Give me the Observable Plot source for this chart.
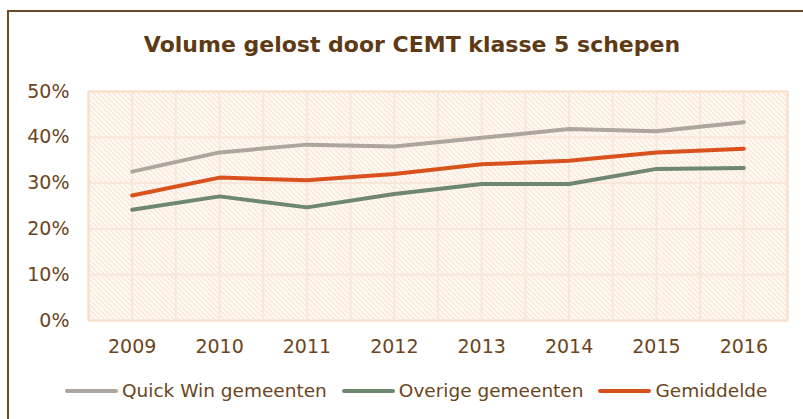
<!DOCTYPE html>
<html>
<head>
<meta charset="utf-8">
<script src="https://cdn.jsdelivr.net/npm/d3@7"></script>
<script src="https://cdn.jsdelivr.net/npm/@observablehq/plot@0.6"></script>
<style>
  html, body { margin: 0; padding: 0; background: #fff; }
  body { width: 803px; height: 419px; position: relative; overflow: hidden; font-family: "DejaVu Sans", Verdana, sans-serif; color: #6B4520; }
  #frame { position: absolute; left: 7px; top: 10px; width: 820px; height: 430px; border-top: 2px solid #6B4A26; border-left: 2px solid #6B4A26; }
  #title { position: absolute; left: 0; top: 32px; width: 824px; text-align: center; font-weight: bold; font-size: 22px; color: #5E3A14; white-space: nowrap; }
  #chart { position: absolute; left: 0; top: 60px; }
  #legend { position: absolute; left: 65px; top: 380px; display: flex; gap: 15px; font-size: 18.5px; color: #6B4520; white-space: nowrap; }
  .item { display: flex; align-items: center; gap: 4px; }
  .swatch { width: 53px; height: 4px; border-radius: 2px; }
</style>
</head>
<body>
<div id="frame"></div>
<div id="title"></div>
<div id="chart"></div>
<div id="legend"></div>
<script>
const titleText = "Volume gelost door CEMT klasse 5 schepen";
const years = [2009, 2010, 2011, 2012, 2013, 2014, 2015, 2016];
const seriesNames = ["Quick Win gemeenten", "Overige gemeenten", "Gemiddelde"];
const seriesColors = ["#ADA69E", "#6E8771", "#D9521D"];
const quickWin = [0.325, 0.367, 0.384, 0.380, 0.399, 0.418, 0.413, 0.433];
const overige  = [0.242, 0.271, 0.247, 0.276, 0.298, 0.298, 0.331, 0.333];
const gemiddelde = [0.273, 0.312, 0.306, 0.320, 0.341, 0.349, 0.367, 0.375];
const yTicks = [0, 0.1, 0.2, 0.3, 0.4, 0.5];

document.getElementById("title").textContent = titleText;

const seriesValues = [quickWin, overige, gemiddelde];
const data = [];
seriesNames.forEach((name, i) => years.forEach((yr, j) => data.push({series: name, year: yr, value: seriesValues[i][j]})));

const gridX = years.flatMap(y => [y - 0.5, y]).concat([years[years.length - 1] + 0.5]);

const plot = Plot.plot({
  width: 803,
  height: 310,
  marginLeft: 88,
  marginRight: 16,
  marginTop: 31,
  marginBottom: 50,
  style: {fontFamily: "'DejaVu Sans', Verdana, sans-serif", fontSize: "19px", color: "#6B4520", background: "transparent", overflow: "visible"},
  x: {domain: [years[0] - 0.5, years[years.length - 1] + 0.5], ticks: years, tickFormat: d => String(d), tickSize: 0, tickPadding: 19, label: null},
  y: {domain: [0, 0.5], ticks: yTicks, tickFormat: d => Math.round(d * 100) + "%", tickSize: 0, tickPadding: 19, label: null},
  color: {domain: seriesNames, range: seriesColors},
  marks: [
    Plot.frame({fill: "url(#hatch)", stroke: "none"}),
    Plot.ruleX(gridX, {stroke: "#F8E7D8", strokeWidth: 2}),
    Plot.ruleY(yTicks, {stroke: "#F8E7D8", strokeWidth: 2}),
    Plot.frame({stroke: "#F6E0CC", strokeWidth: 2}),
    Plot.line(data, {x: "year", y: "value", z: "series", stroke: "series", strokeWidth: 4, strokeLinecap: "round", strokeLinejoin: "round"})
  ]
});

const ns = "http://www.w3.org/2000/svg";
const defs = document.createElementNS(ns, "defs");
defs.innerHTML = `<pattern id="hatch" patternUnits="userSpaceOnUse" width="5" height="5">
  <rect width="5" height="5" fill="#ffffff"/>
  <path d="M-1,-1 L6,6 M-1,4 L1,6 M4,-1 L6,1" stroke="#F9E0CA" stroke-width="1.5"/>
</pattern>`;
plot.insertBefore(defs, plot.firstChild);
document.getElementById("chart").appendChild(plot);

const legend = document.getElementById("legend");
seriesNames.forEach((name, i) => {
  const item = document.createElement("div");
  item.className = "item";
  const sw = document.createElement("span");
  sw.className = "swatch";
  sw.style.background = seriesColors[i];
  const label = document.createElement("span");
  label.textContent = name;
  item.appendChild(sw);
  item.appendChild(label);
  legend.appendChild(item);
});
</script>
</body>
</html>
